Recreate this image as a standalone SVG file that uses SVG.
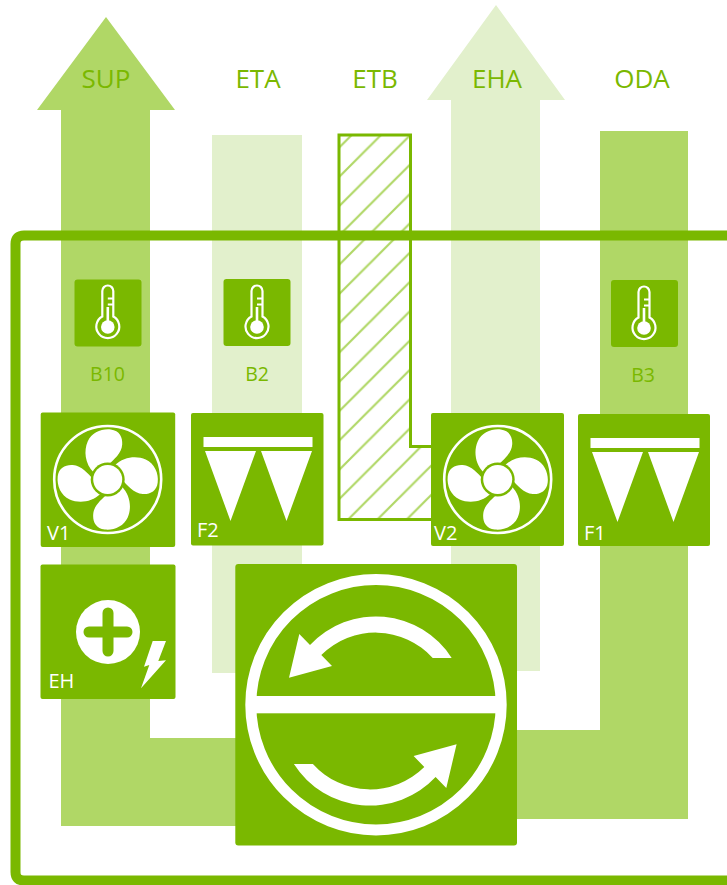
<svg xmlns="http://www.w3.org/2000/svg" xmlns:xlink="http://www.w3.org/1999/xlink" width="727" height="885" viewBox="0 0 727 885">
<style>
.box{fill:#7ab800}
.w{fill:#fff}
.mid{fill:#b0d766}
.pale{fill:#e2f0cc}
.t{font-family:"Open Sans","Liberation Sans",sans-serif}
.head{font-size:26px;fill:#7ab800;text-anchor:middle}
.sen{font-size:19.5px;fill:#7ab800;text-anchor:middle}
.lab{font-size:20px;fill:#fff}
</style>
<defs>
<pattern id="hatch" patternUnits="userSpaceOnUse" width="29.3" height="29.3" patternTransform="translate(17.9 0)">
<path d="M-5,34.3 L34.3,-5 M-5,5 L5,-5 M24.3,34.3 L34.3,24.3" stroke="#b0d766" stroke-width="2.2" fill="none"/>
</pattern>
<g id="blades">
<path id="blade" d="M-14,-7 C-23,-16 -24,-29 -20,-38 C-16,-47 -6,-51 3,-50 C12,-49 15,-42 14.500,-35 C14,-26 6,-20 0,-14 Z"/>
<path d="M-14,-7 C-23,-16 -24,-29 -20,-38 C-16,-47 -6,-51 3,-50 C12,-49 15,-42 14.500,-35 C14,-26 6,-20 0,-14 Z" transform="rotate(90)"/>
<path d="M-14,-7 C-23,-16 -24,-29 -20,-38 C-16,-47 -6,-51 3,-50 C12,-49 15,-42 14.500,-35 C14,-26 6,-20 0,-14 Z" transform="rotate(180)"/>
<path d="M-14,-7 C-23,-16 -24,-29 -20,-38 C-16,-47 -6,-51 3,-50 C12,-49 15,-42 14.500,-35 C14,-26 6,-20 0,-14 Z" transform="rotate(270)"/>
</g>
<g id="fan">
<circle r="53.500" fill="none" stroke="#fff" stroke-width="2.600"/>
<use xlink:href="#blades" href="#blades" class="w"/>
<circle r="17" class="box"/>
<circle r="14.500" class="w"/>
</g>
<g id="filt">
<rect x="-0.500" y="0" width="109" height="10" class="w"/>
<path d="M1,14 H52 L26.500,84 Z M57,14 H108 L82.500,84 Z" class="w"/>
</g>
<g id="thermo">
<path d="M-5.500,-32 a5.500,5.500 0 0 1 11,0 V-6.500 A11.500,11.500 0 1 1 -5.500,-6.500 Z" fill="none" stroke="#fff" stroke-width="2.200"/>
<circle cy="4" r="6.800" class="w"/>
<rect x="-1.300" y="-16" width="2.600" height="18" class="w"/>
<path d="M0,-24.500 H5.500 M0,-18.500 H5.500" stroke="#fff" stroke-width="2" fill="none"/>
</g>
<path id="swirl" d="M451.700,658 A90,90 0 0 0 310,645 L299.300,634 L289,677.700 L332,666 L321.300,655 A77,77 0 0 1 432.700,658 Z"/>
</defs>

<g id="connectors">
<path id="flow-sup" class="mid" d="M106,17 L175,110 H150 V738 H240 V826 H61 V110 H37 Z"/>
<rect id="flow-eta" class="pale" x="212" y="135" width="90" height="538"/>
<path id="flow-eha" class="pale" d="M496,5 L565,100 H540 V671 H451 V100 H427 Z"/>
<path id="flow-oda" class="mid" d="M600,131 H688 V819 H510 V730 H600 Z"/>
<path id="flow-etb" d="M339,135 H410.500 V446.500 H440 V519.500 H339 Z" fill="url(#hatch)" stroke="#7ab800" stroke-width="3"/>
</g>

<path id="frame" d="M727,235.500 H24 Q15.500,235.500 15.500,244 V872 Q15.500,880.500 24,880.500 H727" fill="none" stroke="#7ab800" stroke-width="10"/>

<g id="sup" class="t"><text class="head" x="106" y="88">SUP</text></g>
<g id="eta" class="t"><text class="head" x="258" y="88">ETA</text></g>
<g id="etb" class="t"><text class="head" x="375" y="88">ETB</text></g>
<g id="eha" class="t"><text class="head" x="497" y="88">EHA</text></g>
<g id="oda" class="t"><text class="head" x="642" y="88">ODA</text></g>

<g id="b10">
<rect class="box" x="74.500" y="279.500" width="67" height="67" rx="3"/>
<use xlink:href="#thermo" href="#thermo" x="107.800" y="323"/>
<text class="t sen" x="107.500" y="381">B10</text>
</g>
<g id="b2">
<rect class="box" x="223.500" y="279" width="67" height="67" rx="3"/>
<use xlink:href="#thermo" href="#thermo" x="257" y="323"/>
<text class="t sen" x="257" y="381">B2</text>
</g>
<g id="b3">
<rect class="box" x="611" y="280" width="67" height="67" rx="3"/>
<use xlink:href="#thermo" href="#thermo" x="644" y="324"/>
<text class="t sen" x="643" y="382">B3</text>
</g>

<g id="v1">
<rect class="box" x="40.700" y="412.500" width="134.500" height="134.500" rx="2"/>
<use xlink:href="#fan" href="#fan" x="107.700" y="479.500"/>
<text class="t lab" x="47" y="540">V1</text>
</g>
<g id="f2">
<rect class="box" x="191" y="413" width="132.500" height="132.500" rx="2"/>
<use xlink:href="#filt" href="#filt" x="204" y="437"/>
<text class="t lab" x="197" y="537">F2</text>
</g>
<g id="v2">
<rect class="box" x="431" y="413" width="133" height="133" rx="2"/>
<use xlink:href="#fan" href="#fan" x="497.700" y="479.500"/>
<text class="t lab" x="434" y="540">V2</text>
</g>
<g id="f1">
<rect class="box" x="578" y="414" width="132" height="132" rx="2"/>
<use xlink:href="#filt" href="#filt" x="591" y="438"/>
<text class="t lab" x="584" y="540">F1</text>
</g>
<g id="eh">
<rect class="box" x="40.500" y="564.500" width="135" height="134.500" rx="2"/>
<circle class="w" cx="108" cy="632" r="32"/>
<path d="M89,632 H127 M108,613 V651" stroke="#7ab800" stroke-width="11" stroke-linecap="round" fill="none"/>
<path class="w" d="M152.700,641 H166 L158.300,661 L166,660.300 L141,688.300 L149.300,665 L144,666.700 Z"/>
<text class="t lab" x="48.500" y="688">EH</text>
</g>
<g id="hx">
<rect class="box" x="235.300" y="564" width="281.700" height="281.500" rx="3"/>
<circle cx="376" cy="704.700" r="125.200" fill="none" stroke="#fff" stroke-width="11"/>
<rect class="w" x="254" y="696" width="244" height="17.300"/>
<use xlink:href="#swirl" href="#swirl" class="w"/>
<use xlink:href="#swirl" href="#swirl" class="w" transform="rotate(180 372.800 711)"/>
</g>
</svg>
